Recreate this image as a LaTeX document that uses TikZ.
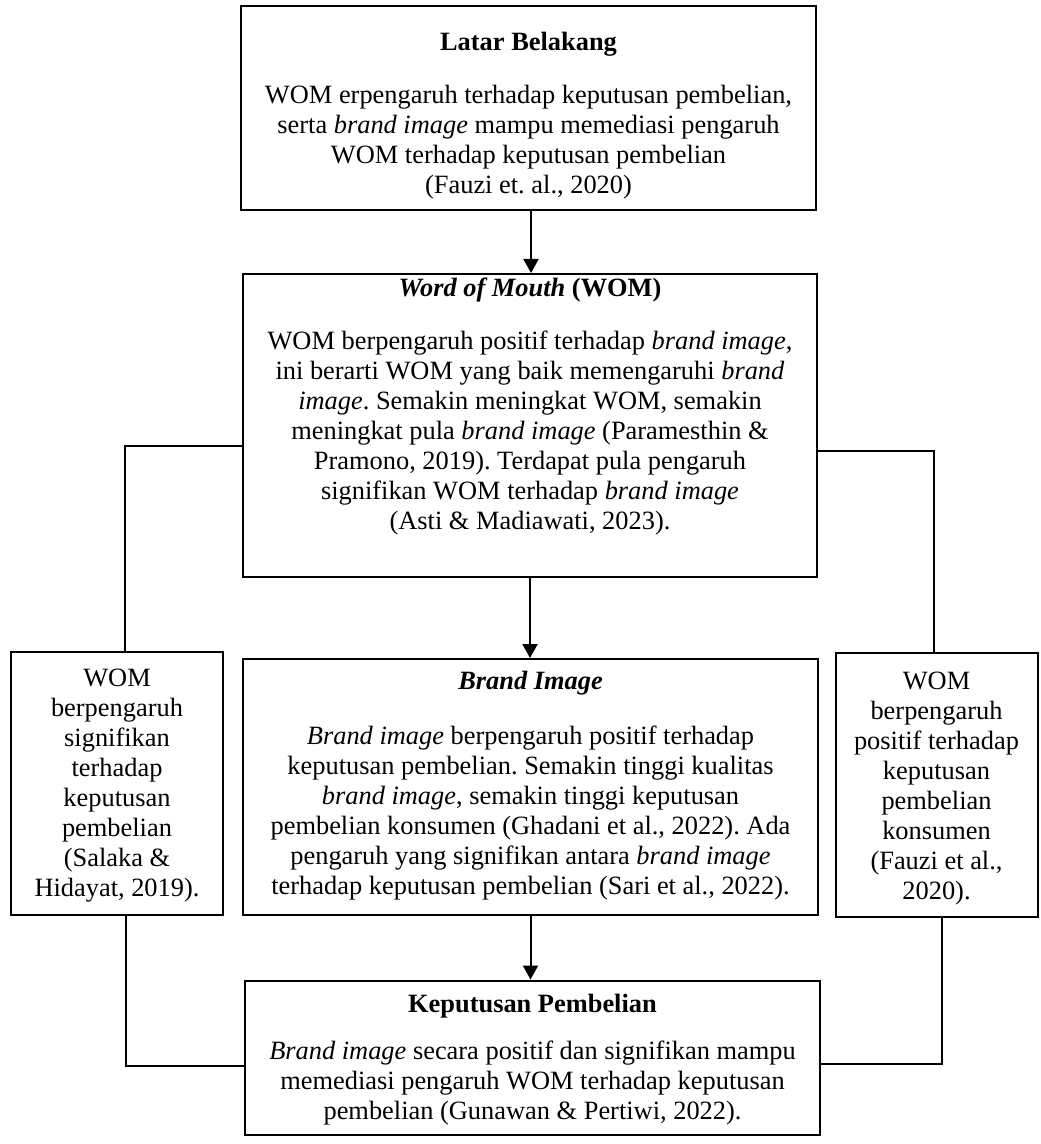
\documentclass[tikz,border=0pt]{standalone}
\usepackage{fontspec}
\setmainfont{Liberation Serif}
\usepackage{tikz}
\usetikzlibrary{arrows.meta,positioning}
% width, height, top space, text
\newcommand{\isikotak}[4]{\parbox[c][#2][t]{#1}{\centering\vspace*{#3}\strut#4}}

\begin{document}
\frenchspacing
\begin{tikzpicture}[x=0.5pt,y=-0.5pt,
  box/.style={draw,line width=1pt,inner sep=0pt,font=\fontsize{13.2}{15}\selectfont},
  link/.style={line width=1pt},
  flow/.style={line width=1pt,-{Triangle[length=7pt,width=7.5pt]}}]
\useasboundingbox (0,0) rectangle (1040,1144);
% Latar belakang
\node[box] (latar) at (528.5,108) {\isikotak{287.5pt}{102pt}{12pt}{\textbf{Latar Belakang}\\[11.5pt]
WOM erpengaruh terhadap keputusan pembelian,\\
serta \textit{brand image} mampu memediasi pengaruh\\
WOM terhadap keputusan pembelian\\
(Fauzi et. al., 2020)}};
% Word of Mouth
\node[box] (wom) at (530,425.5) {\isikotak{287pt}{151.5pt}{0.5pt}{\textbf{\textit{Word of Mouth} (WOM)}\\[11.5pt]
WOM berpengaruh positif terhadap \textit{brand image},\\
ini berarti WOM yang baik memengaruhi \textit{brand}\\
\textit{image}. Semakin meningkat WOM, semakin\\
meningkat pula \textit{brand image} (Paramesthin \&\\
Pramono, 2019). Terdapat pula pengaruh\\
signifikan WOM terhadap \textit{brand image}\\
(Asti \& Madiawati, 2023).}};
% Brand image
\node[box] (brand) at (530.5,787) {\isikotak{287.5pt}{128pt}{4.5pt}{\textbf{\textit{Brand Image}}\\[12.5pt]
\textit{Brand image} berpengaruh positif terhadap\\
keputusan pembelian. Semakin tinggi kualitas\\
\textit{brand image}, semakin tinggi keputusan\\
pembelian konsumen (Ghadani et al., 2022). Ada\\
pengaruh yang signifikan antara \textit{brand image}\\
terhadap keputusan pembelian (Sari et al., 2022).}};
% side boxes
\node[box] (kiri) at (117,783.5) {\isikotak{106pt}{131.5pt}{6.5pt}{WOM\\ berpengaruh\\ signifikan\\ terhadap\\ keputusan\\ pembelian\\ (Salaka \&\\ Hidayat, 2019).}};
\node[box] (kanan) at (936.5,785) {\isikotak{101pt}{132pt}{7.5pt}{WOM\\ berpengaruh\\ positif terhadap\\ keputusan\\ pembelian\\ konsumen\\ (Fauzi et al.,\\ 2020).}};
% Keputusan pembelian
\node[box] (keputusan) at (532.5,1057.5) {\isikotak{287.5pt}{77pt}{5.5pt}{\textbf{Keputusan Pembelian}\\[8.5pt]
\textit{Brand image} secara positif dan signifikan mampu\\
memediasi pengaruh WOM terhadap keputusan\\
pembelian (Gunawan \& Pertiwi, 2022).}};
% arrows
\draw[flow] ([xshift=1.25pt]latar.south) -- ([xshift=1.25pt]latar.south |- wom.north);
\draw[flow] (wom.south) -- (wom.south |- brand.north);
\draw[flow] (brand.south) -- (brand.south |- keputusan.north);
% side links
\draw[link] ([yshift=-10pt]wom.west) -| ([xshift=4pt]kiri.north);
\draw[link] ([yshift=-12.75pt]wom.east) -| ([xshift=-1.25pt]kanan.north);
\draw[link] ([xshift=4.5pt]kiri.south) |- ([yshift=-4pt]keputusan.west);
\draw[link] ([xshift=2.75pt]kanan.south) |- ([yshift=-3pt]keputusan.east);
\end{tikzpicture}
\end{document}
